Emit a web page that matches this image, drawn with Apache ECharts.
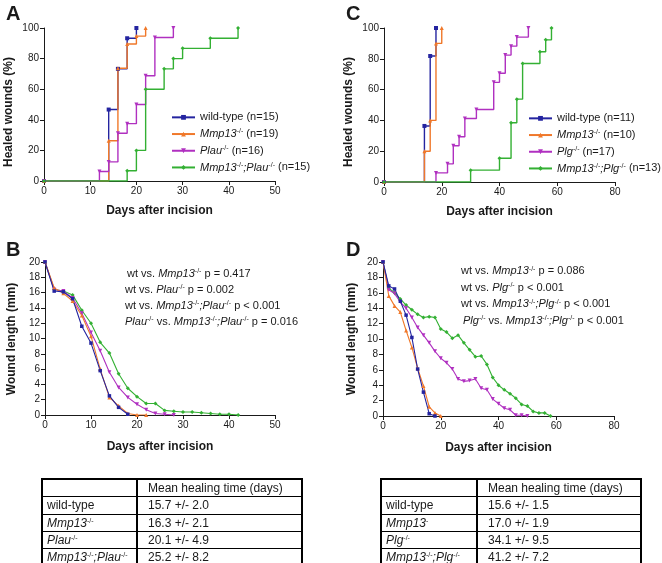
<!DOCTYPE html>
<html><head><meta charset="utf-8">
<script src="https://cdn.jsdelivr.net/npm/echarts@6/dist/echarts.min.js"></script>
<style>html,body{margin:0;padding:0;background:#fff}#c{width:662px;height:563px}</style>
</head><body><div id="c"></div>
<script>
// ---------- Panel A: healed wounds (%) ----------
const aDays_wt   = [0, 14, 16, 18, 20];
const aHealed_wt = [0, 46.7, 73.3, 93.3, 100];
const aDays_mmp   = [0, 14, 16, 18, 20, 22];
const aHealed_mmp = [0, 26.3, 73.7, 89.5, 94.7, 100];
const aDays_plau   = [0, 12, 14, 16, 18, 20, 22, 24, 28];
const aHealed_plau = [0, 6.25, 12.5, 31.25, 37.5, 50, 68.75, 93.75, 100];
const aDays_dbl   = [0, 18, 20, 22, 26, 28, 30, 36, 42];
const aHealed_dbl = [0, 6.67, 20, 60, 73.3, 80, 86.7, 93.3, 100];
// ---------- Panel C: healed wounds (%) ----------
const cDays_wt   = [0, 14, 16, 18];
const cHealed_wt = [0, 36.4, 81.8, 100];
const cDays_mmp   = [0, 14, 16, 18, 20];
const cHealed_mmp = [0, 20, 40, 90, 100];
const cDays_plg   = [0, 18, 22, 24, 26, 28, 32, 38, 40, 42, 44, 46, 50];
const cHealed_plg = [0, 5.9, 11.8, 23.5, 29.4, 41.2, 47.1, 64.7, 70.6, 82.4, 88.2, 94.1, 100];
const cDays_dbl   = [0, 30, 40, 44, 46, 48, 54, 56, 58];
const cHealed_dbl = [0, 7.7, 15.4, 38.5, 53.8, 76.9, 84.6, 92.3, 100];
// ---------- Panel B: wound length (mm) ----------
const bDays_wt = [0, 2, 4, 6, 8, 10, 12, 14, 16, 18];
const bLen_wt  = [20, 16.2, 16.1, 15.2, 11.6, 9.4, 5.8, 2.5, 1.0, 0.1];
const bDays_mmp = [0, 2, 4, 6, 8, 10, 12, 14, 16, 18, 20, 22];
const bLen_mmp  = [20, 16.6, 15.9, 14.9, 13.0, 10.3, 6.0, 2.3, 1.2, 0.2, 0, 0];
const bDays_plau = [0, 2, 4, 6, 8, 10, 12, 14, 16, 18, 20, 22, 24, 26, 28];
const bLen_plau  = [20, 16.4, 16.2, 15.3, 13.3, 10.8, 8.4, 5.6, 3.6, 2.3, 1.4, 0.7, 0.2, 0.1, 0];
const bDays_dbl = [0, 2, 4, 6, 8, 10, 12, 14, 16, 18, 20, 22, 24, 26, 28, 30, 32, 34, 36, 38, 40, 42];
const bLen_dbl  = [20, 16.4, 16.2, 15.7, 13.7, 12.0, 9.5, 8.1, 5.4, 3.5, 2.4, 1.5, 1.5, 0.6, 0.5, 0.4, 0.4, 0.3, 0.2, 0.1, 0.1, 0];
// ---------- Panel D: wound length (mm) ----------
const dDays_wt = [0, 2, 4, 6, 8, 10, 12, 14, 16, 18];
const dLen_wt  = [20, 16.9, 16.5, 14.9, 13.1, 10.2, 6.1, 3.1, 0.3, 0];
const dDays_mmp = [0, 2, 4, 6, 8, 10, 12, 14, 16, 18, 20];
const dLen_mmp  = [20, 15.6, 14.3, 13.5, 11.1, 8.9, 6.2, 3.9, 1.2, 0.4, 0];
const dDays_plg = [0, 2, 4, 6, 8, 10, 12, 14, 16, 18, 20, 22, 24, 26, 28, 30, 32, 34, 36, 38, 40, 42, 44, 46, 48, 50];
const dLen_plg  = [20, 16.4, 15.9, 14.8, 14.0, 12.8, 11.5, 10.5, 9.5, 8.4, 7.5, 6.9, 6.1, 4.8, 4.5, 4.6, 4.8, 3.6, 3.4, 2.2, 1.6, 1.0, 0.8, 0.1, 0.1, 0];
const dDays_dbl = [0, 2, 4, 6, 8, 10, 12, 14, 16, 18, 20, 22, 24, 26, 28, 30, 32, 34, 36, 38, 40, 42, 44, 46, 48, 50, 52, 54, 56, 58];
const dLen_dbl  = [20, 16.6, 16.0, 15.2, 14.4, 13.8, 13.2, 12.8, 12.9, 12.8, 11.3, 10.9, 10.1, 10.5, 9.5, 8.6, 7.7, 7.8, 6.7, 5.0, 4.0, 3.4, 2.9, 2.3, 1.5, 1.3, 0.6, 0.4, 0.4, 0];
// ---------- Axis ticks ----------
const ticksPct = [0, 20, 40, 60, 80, 100];
const ticksLen = [0, 2, 4, 6, 8, 10, 12, 14, 16, 18, 20];
const ticksDaysAB = [0, 10, 20, 30, 40, 50];
const ticksDaysCD = [0, 20, 40, 60, 80];
// ---------- Text ----------
const legendA = ['wild-type (n=15)', '{i|Mmp13}{s|-/-} (n=19)', '{i|Plau}{s|-/-} (n=16)', '{i|Mmp13}{s|-/-}{i|;Plau}{s|-/-} (n=15)'];
const legendC = ['wild-type (n=11)', '{i|Mmp13}{s|-/-} (n=10)', '{i|Plg}{s|-/-} (n=17)', '{i|Mmp13}{s|-/-}{i|;Plg}{s|-/-} (n=13)'];
const pTextB = ['wt vs. {i|Mmp13}{s|-/-} p = 0.417', 'wt vs. {i|Plau}{s|-/-} p = 0.002', 'wt vs. {i|Mmp13}{s|-/-}{i|;Plau}{s|-/-} p < 0.001', '{i|Plau}{s|-/-} vs. {i|Mmp13}{s|-/-}{i|;Plau}{s|-/-} p = 0.016'];
const pTextD = ['wt vs. {i|Mmp13}{s|-/-} p = 0.086', 'wt vs. {i|Plg}{s|-/-} p < 0.001', 'wt vs. {i|Mmp13}{s|-/-}{i|;Plg}{s|-/-} p < 0.001', '{i|Plg}{s|-/-} vs. {i|Mmp13}{s|-/-}{i|;Plg}{s|-/-} p < 0.001'];
const tableHeader = 'Mean healing time (days)';
const tableBLabels = ['wild-type', '{i|Mmp13}{s|-/-}', '{i|Plau}{s|-/-}', '{i|Mmp13}{s|-/-}{i|;Plau}{s|-/-}'];
const tableBValues = ['15.7 +/- 2.0', '16.3 +/- 2.1', '20.1 +/- 4.9', '25.2 +/- 8.2'];
const tableDLabels = ['wild-type', '{i|Mmp13}{s|-}', '{i|Plg}{s|-/-}', '{i|Mmp13}{s|-/-}{i|;Plg}{s|-/-}'];
const tableDValues = ['15.6 +/- 1.5', '17.0 +/- 1.9', '34.1 +/- 9.5', '41.2 +/- 7.2'];

const FONT = '"Liberation Sans", Arial, Helvetica, sans-serif';
const INK = '#1a1a1a';
const COLORS = ['#2424a0', '#f0782a', '#b030c0', '#33b033'];
const SYMBOLS = ['rect', 'triangle', 'triangle', 'diamond'];
const SYMROT = [0, 0, 180, 0];

function rich(sz) {
  return {
    i: {fontStyle: 'italic', fontSize: sz, fontFamily: FONT, color: INK},
    s: {fontSize: Math.round(sz * 0.62), fontFamily: FONT, color: INK, verticalAlign: 'top'}
  };
}
function pairs(xs, ys) { return xs.map((x, i) => [x, ys[i]]); }

const chart = echarts.init(document.getElementById('c'), null, {renderer: 'canvas'});

const grids = [
  {left: 44, top: 28, width: 231, height: 153},   // A
  {left: 45, top: 262, width: 230, height: 153},  // B
  {left: 384, top: 28, width: 231, height: 154},  // C
  {left: 383, top: 262, width: 231, height: 154}  // D
].map(g => Object.assign({containLabel: false, outerBoundsMode: 'none'}, g));

function axisBase() {
  return {
    axisLine: {show: true, onZero: false, lineStyle: {color: INK, width: 1}},
    axisTick: {show: true, length: 4, lineStyle: {color: INK}},
    axisLabel: {fontSize: 10, color: INK, fontFamily: FONT, margin: 5},
    splitLine: {show: false}
  };
}
const xTickSets = [ticksDaysAB, ticksDaysAB, ticksDaysCD, ticksDaysCD];
const yTickSets = [ticksPct, ticksLen, ticksPct, ticksLen];
const xAxes = xTickSets.map((t, i) => Object.assign(axisBase(), {
  type: 'value', gridIndex: i, min: t[0], max: t[t.length - 1], interval: t[1] - t[0],
  name: 'Days after incision', nameLocation: 'middle', nameGap: i % 2 === 0 ? 24 : 26,
  nameTextStyle: {fontSize: 12, fontWeight: 'bold', color: INK, fontFamily: FONT}
}));
const yAxes = yTickSets.map((t, i) => Object.assign(axisBase(), {
  type: 'value', gridIndex: i, min: t[0], max: t[t.length - 1], interval: t[1] - t[0]
}));

const series = [];
function addStep(name, xs, ys, k, idx) {
  series.push({
    name, type: 'line', xAxisIndex: idx, yAxisIndex: idx, step: 'end',
    data: pairs(xs, ys), color: COLORS[k], symbol: SYMBOLS[k], symbolRotate: SYMROT[k],
    symbolSize: 4, showSymbol: true, animation: false, silent: true,
    lineStyle: {width: 1.4, color: COLORS[k]}, itemStyle: {color: COLORS[k]}
  });
}
function addLine(name, xs, ys, k, idx) {
  series.push({
    name, type: 'line', xAxisIndex: idx, yAxisIndex: idx,
    data: pairs(xs, ys), color: COLORS[k], symbol: SYMBOLS[k], symbolRotate: SYMROT[k],
    symbolSize: k === 0 ? 3.5 : 4, showSymbol: true, animation: false, silent: true,
    lineStyle: {width: 1.1, color: COLORS[k]}, itemStyle: {color: COLORS[k]}
  });
}
addStep('A0', aDays_wt, aHealed_wt, 0, 0);
addStep('A1', aDays_mmp, aHealed_mmp, 1, 0);
addStep('A2', aDays_plau, aHealed_plau, 2, 0);
addStep('A3', aDays_dbl, aHealed_dbl, 3, 0);
addLine('B3', bDays_dbl, bLen_dbl, 3, 1);
addLine('B2', bDays_plau, bLen_plau, 2, 1);
addLine('B1', bDays_mmp, bLen_mmp, 1, 1);
addLine('B0', bDays_wt, bLen_wt, 0, 1);
addStep('C0', cDays_wt, cHealed_wt, 0, 2);
addStep('C1', cDays_mmp, cHealed_mmp, 1, 2);
addStep('C2', cDays_plg, cHealed_plg, 2, 2);
addStep('C3', cDays_dbl, cHealed_dbl, 3, 2);
addLine('D3', dDays_dbl, dLen_dbl, 3, 3);
addLine('D2', dDays_plg, dLen_plg, 2, 3);
addLine('D1', dDays_mmp, dLen_mmp, 1, 3);
addLine('D0', dDays_wt, dLen_wt, 0, 3);

function legendCfg(prefix, labels, left, top) {
  return {
    data: labels.map((_, i) => prefix + i), orient: 'vertical', left, top, padding: 0,
    itemWidth: 23, itemHeight: 6, itemGap: 4, selectedMode: false,
    formatter: n => labels[+n.slice(1)],
    textStyle: {fontSize: 11, color: INK, fontFamily: FONT, lineHeight: 12.7, rich: rich(11)}
  };
}

const graphic = [];
function txt(x, y, text, opts) {
  graphic.push({type: 'text', x, y, silent: true, style: Object.assign({
    text, fontFamily: FONT, fontSize: 11, fill: INK, verticalAlign: 'middle', align: 'left', rich: rich(11)
  }, opts || {})});
}
// panel letters
txt(6, 14, 'A', {fontSize: 20, fontWeight: 'bold'});
txt(6, 250, 'B', {fontSize: 20, fontWeight: 'bold'});
txt(346, 14, 'C', {fontSize: 20, fontWeight: 'bold'});
txt(346, 250, 'D', {fontSize: 20, fontWeight: 'bold'});
// y titles
function ytitle(x, y, t) {
  graphic.push({type: 'text', x, y, rotation: Math.PI / 2, silent: true,
    style: {text: t, fontFamily: FONT, fontSize: 12, fontWeight: 'bold', fill: INK, align: 'center', verticalAlign: 'middle'}});
}
ytitle(9, 112, 'Healed wounds (%)');
ytitle(349, 112, 'Healed wounds (%)');
ytitle(12, 339, 'Wound length (mm)');
ytitle(352, 339, 'Wound length (mm)');
// p-values
pTextB.forEach((t, i) => txt(i === 0 ? 127 : 125, 273.5 + 16 * i, t));
pTextD.forEach((t, i) => txt(i === 3 ? 463 : 461, 271 + 16.5 * i, t));
// tables
function table(x0, xm, x1, labels, values) {
  const top = 479, rh = 17.3;
  const rows = labels.length + 1;
  const bottom = top + rh * rows;
  const L = (x1_, y1_, x2_, y2_, w) => graphic.push({type: 'line', silent: true,
    shape: {x1: x1_, y1: y1_, x2: x2_, y2: y2_}, style: {stroke: '#000', lineWidth: w}});
  L(x0, top, x1, top, 2);
  for (let r = 1; r < rows; r++) { const y = Math.round(top + rh * r) + 0.5; L(x0, y, x1, y, 1); }
  L(x0, bottom, x1, bottom, 2);
  L(x0, top - 1, x0, bottom + 1, 2);
  L(xm, top - 1, xm, bottom + 1, 2);
  L(x1, top - 1, x1, bottom + 1, 2);
  txt(xm + 11, top + rh / 2 + 1, tableHeader, {fontSize: 12, rich: rich(12)});
  labels.forEach((t, i) => {
    const y = top + rh * (i + 1) + rh / 2 + 1;
    txt(x0 + 5, y, t, {fontSize: 12, rich: rich(12)});
    txt(xm + 11, y, values[i], {fontSize: 12, rich: rich(12)});
  });
}
table(42, 137, 302, tableBLabels, tableBValues);
table(381, 477, 641, tableDLabels, tableDValues);

chart.setOption({
  backgroundColor: '#fff',
  animation: false,
  textStyle: {fontFamily: FONT},
  grid: grids, xAxis: xAxes, yAxis: yAxes, series,
  legend: [legendCfg('A', legendA, 171, 111), legendCfg('C', legendC, 528, 112)],
  graphic
});
</script></body></html>
